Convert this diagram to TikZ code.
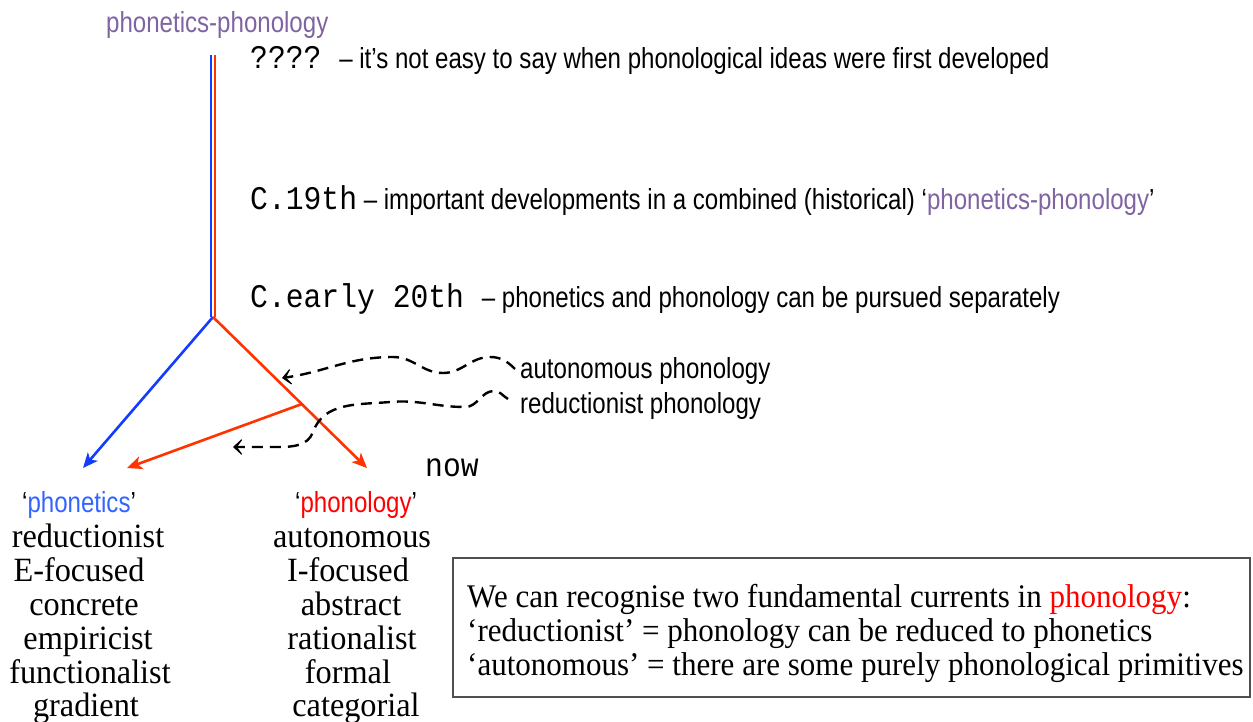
\documentclass[tikz,border=0pt]{standalone}
\usepackage{fontspec}
\setmainfont{Liberation Serif}
\newfontfamily\sansn[FakeStretch=0.83]{Liberation Sans}
\newfontfamily\monon[FakeStretch=0.9]{Liberation Mono}
\newfontfamily\serifcol[FakeStretch=0.95]{Liberation Serif}
\newfontfamily\serifbox[FakeStretch=0.94]{Liberation Serif}
\usetikzlibrary{arrows.meta}
\definecolor{ppurple}{RGB}{128,100,162}
\definecolor{lblue}{RGB}{20,60,255}
\definecolor{lred}{RGB}{255,51,0}
\definecolor{tblue}{RGB}{50,100,255}
\definecolor{tred}{RGB}{255,0,0}
\definecolor{boxgray}{RGB}{80,80,80}
\tikzset{
  txt/.style={inner sep=0pt, anchor=base west},
  sanstxt/.style={txt, font=\sansn\fontsize{29}{34}\selectfont},
  coltxt/.style={inner sep=0pt, anchor=base, font=\serifcol\fontsize{34}{34}\selectfont},
  boxtxt/.style={txt, font=\serifbox\fontsize{33}{34}\selectfont},
  mono/.style={font=\monon\fontsize{33}{34}\selectfont},
  bluebr/.style={draw=lblue, line width=2.6pt, -{Stealth[length=15pt,width=13pt,inset=4pt]}},
  redbr/.style={draw=lred, line width=2.6pt, -{Stealth[length=15pt,width=13pt,inset=4pt]}},
  dasharrow/.style={draw=black, line width=2.4pt, dash pattern=on 11pt off 7pt, -{Stealth[length=12pt,width=22pt,inset=8pt]}},
}
\begin{document}
\begin{tikzpicture}[x=1pt,y=-1pt]
\useasboundingbox (0,0) rectangle (1253,722);
% top title
\node[sanstxt, text=ppurple] (title) at (106,33) {phonetics-phonology};
% timeline texts
\node[sanstxt] (t1) at (250,69) {{\monon\fontsize{33}{34}\selectfont ????~}– it’s not easy to say when phonological ideas were first developed};
\node[sanstxt] (t2) at (250,210) {{\monon\fontsize{33}{34}\selectfont C.19th} – important developments in a combined (historical) ‘\textcolor{ppurple}{phonetics-phonology}’};
\node[sanstxt] (t3) at (250,307) {{\monon\fontsize{33}{34}\selectfont C.early 20th~}– phonetics and phonology can be pursued separately};
% coordinates of the tree
\coordinate (topB) at (211,55);
\coordinate (topR) at (215,55);
\coordinate (jB) at (211,317);
\coordinate (jR) at (215,317);
\coordinate (j) at (213,317);
\coordinate (tipB) at (83,468);
\coordinate (tipR) at (367,468);
\coordinate (brS) at (302,404);
\coordinate (tipR2) at (127,468);
\draw[draw=lblue, line width=2pt] (topB) -- (jB);
\draw[draw=lred, line width=2pt] (topR) -- (jR);
\draw[bluebr] (j) -- (tipB);
\draw[redbr] (j) -- (tipR);
\draw[redbr] (brS) -- (tipR2);
% labels
\node[sanstxt] (auton) at (520,378) {autonomous phonology};
\node[sanstxt] (reduc) at (520,413) {reductionist phonology};
\node[txt, mono] (now) at (425,476) {now};
% dashed arrows
\coordinate (s1) at (515,369);
\coordinate (s2) at (508,399);
\coordinate (a1) at (282,378);
\coordinate (a2) at (233,447);
\draw[dasharrow] (s1) to[out=135,in=0] (490,357) to[out=180,in=0] (443,373) to[out=180,in=0] (393,357) to[out=180,in=8] (a1);
\draw[dasharrow] (s2) to[out=150,in=0] (494,391) to[out=180,in=0] (465,407) to[out=180,in=5] (390,402) to[out=185,in=70] (313,432) to[out=250,in=0] (278,447) to[out=180,in=0] (a2);
% columns
\node[txt, font=\sansn\fontsize{29}{34}\selectfont] (phon) at (22,512) {‘\textcolor{tblue}{phonetics}’};
\node[txt, font=\sansn\fontsize{29}{34}\selectfont] (phonl) at (295,512) {‘\textcolor{tred}{phonology}’};
\node[coltxt] (l1) at (88,547) {reductionist};
\node[coltxt] (l2) at (79,581) {E-focused};
\node[coltxt] (l3) at (84,615) {concrete};
\node[coltxt] (l4) at (88,649) {empiricist};
\node[coltxt] (l5) at (90,683) {functionalist};
\node[coltxt] (l6) at (86,716) {gradient};
\node[coltxt] (r1) at (352,547) {autonomous};
\node[coltxt] (r2) at (348,581) {I-focused};
\node[coltxt] (r3) at (351,615) {abstract};
\node[coltxt] (r4) at (352,649) {rationalist};
\node[coltxt] (r5) at (348,683) {formal};
\node[coltxt] (r6) at (356,716) {categorial};
% box
\draw[draw=boxgray, line width=1.5pt] (453,558) rectangle (1250,697);
\node[boxtxt] (b1) at (467,607) {We can recognise two fundamental currents in \textcolor{tred}{phonology}:};
\node[boxtxt] (b2) at (467,641) {‘reductionist’ = phonology can be reduced to phonetics};
\node[boxtxt] (b3) at (467,675) {‘autonomous’ = there are some purely phonological primitives};
\end{tikzpicture}
\end{document}
